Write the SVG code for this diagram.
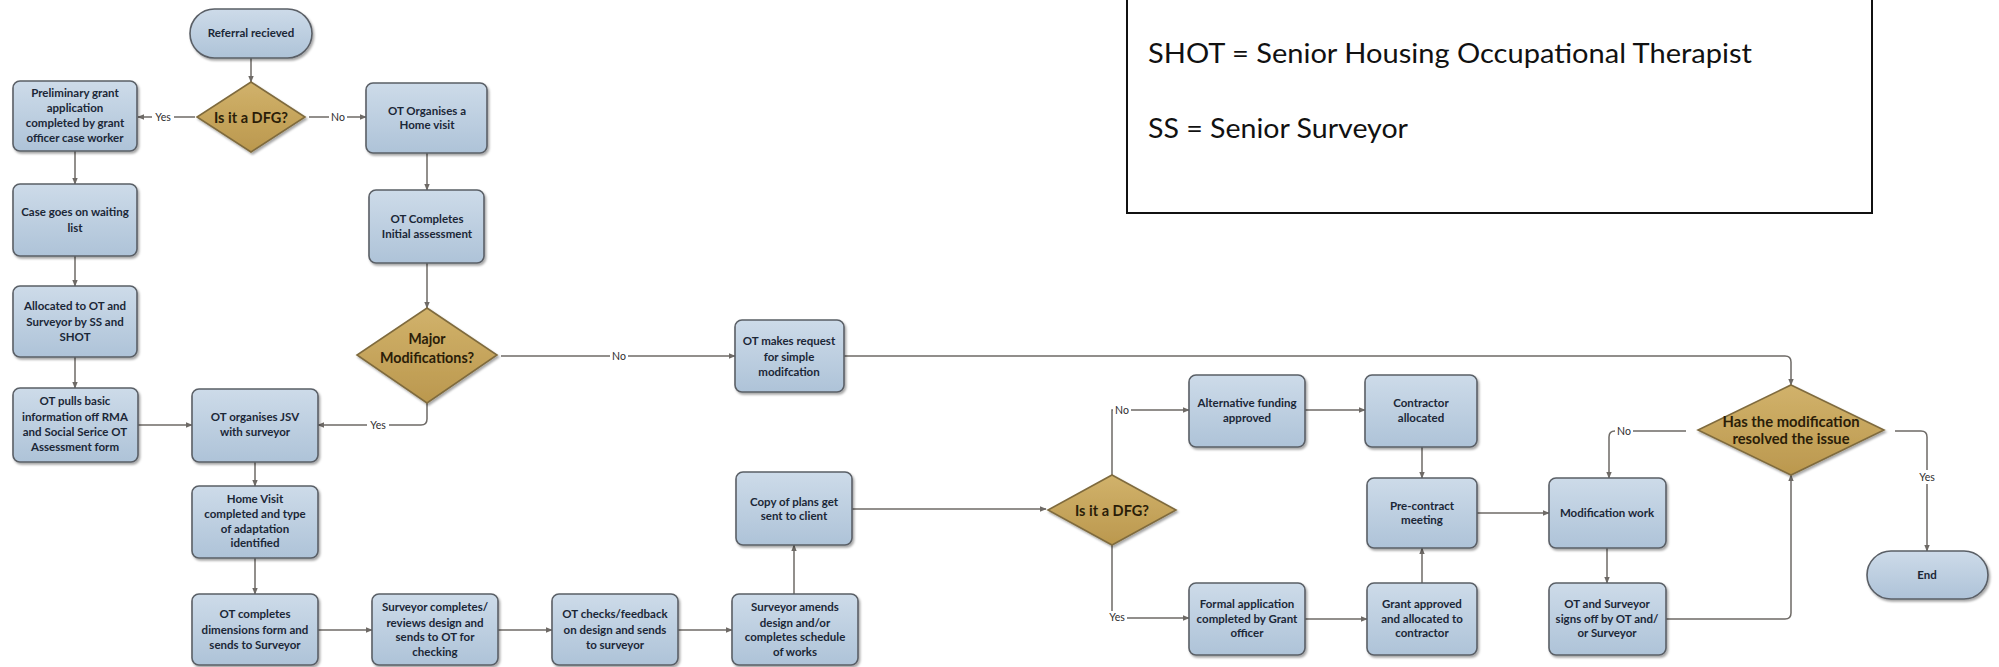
<svg xmlns="http://www.w3.org/2000/svg" width="1999" height="667" viewBox="0 0 1999 667">
  <defs>
    <linearGradient id="boxFill" x1="0" y1="0" x2="0" y2="1">
      <stop offset="0" stop-color="#cddbe9"/>
      <stop offset="1" stop-color="#aec3d8"/>
    </linearGradient>
    <linearGradient id="decFill" x1="0" y1="0" x2="0" y2="1">
      <stop offset="0" stop-color="#d1b26b"/>
      <stop offset="1" stop-color="#bb984e"/>
    </linearGradient>
    <filter id="shadow" x="-10%" y="-10%" width="125%" height="130%">
      <feDropShadow dx="1.5" dy="2" stdDeviation="1.2" flood-color="#000" flood-opacity="0.35"/>
    </filter>
    <marker id="arrow" viewBox="0 0 10 10" refX="9" refY="5" markerWidth="7" markerHeight="7" orient="auto" markerUnits="userSpaceOnUse">
      <path d="M0,1 L10,5 L0,9 Z" fill="#6e6a66"/>
    </marker>
  </defs>
  <style>
    .box { fill: url(#boxFill); stroke: #5a5f66; stroke-width: 1.6; filter: url(#shadow); }
    .dec { fill: url(#decFill); stroke: #7f6b3e; stroke-width: 1.6; filter: url(#shadow); }
    .lbl { font-family: Lato, "Liberation Sans", sans-serif; font-weight: bold; font-size: 11.5px; fill: #1b2737; text-anchor: middle; }
    .dlbl { font-family: Lato, "Liberation Sans", sans-serif; font-weight: bold; font-size: 16px; fill: #2b1d08; text-anchor: middle; }
    .edge { fill: none; stroke: #6e6a66; stroke-width: 1.5; marker-end: url(#arrow); }
    .elbl { font-family: Lato, "Liberation Sans", sans-serif; font-size: 10.5px; fill: #2e2e2e; text-anchor: middle; }
    .lbg { fill: #ffffff; }
    .legend { font-family: Lato, "Open Sans", sans-serif; font-size: 27px; fill: #111111; }
  </style>

  <!-- legend -->
  <g id="legend">
    <rect x="1127" y="-2" width="745" height="215" fill="#ffffff" stroke="#111111" stroke-width="2"/>
    <text class="legend" x="1148" y="63" textLength="604" lengthAdjust="spacingAndGlyphs">SHOT = Senior Housing Occupational Therapist</text>
    <text class="legend" x="1148" y="138" textLength="260" lengthAdjust="spacingAndGlyphs">SS = Senior Surveyor</text>
  </g>

  <!-- connectors -->
  <g id="connectors">
    <path class="edge" d="M251,58 V82"/>
    <path class="edge" d="M195,117 H138"/>
    <path class="edge" d="M309,117 H366"/>
    <path class="edge" d="M75,151 V184"/>
    <path class="edge" d="M75,256 V286"/>
    <path class="edge" d="M75,357 V388"/>
    <path class="edge" d="M427,153 V190"/>
    <path class="edge" d="M427,263 V308"/>
    <path class="edge" d="M501,356 H735"/>
    <path class="edge" d="M427,403 V419 Q427,425 421,425 H318"/>
    <path class="edge" d="M138,425 H192"/>
    <path class="edge" d="M255,462 V486"/>
    <path class="edge" d="M255,558 V594"/>
    <path class="edge" d="M318,630 H372"/>
    <path class="edge" d="M498,630 H552"/>
    <path class="edge" d="M678,630 H732"/>
    <path class="edge" d="M794,594 V545"/>
    <path class="edge" d="M852,509 H1046"/>
    <path class="edge" d="M1112,475 V410 H1189"/>
    <path class="edge" d="M1112,545 V618 H1189"/>
    <path class="edge" d="M1305,410 H1365"/>
    <path class="edge" d="M1305,619 H1367"/>
    <path class="edge" d="M1422,447 V478"/>
    <path class="edge" d="M1422,583 V548"/>
    <path class="edge" d="M1477,513 H1549"/>
    <path class="edge" d="M1607,548 V583"/>
    <path class="edge" d="M1666,619 H1785 Q1791,619 1791,613 V475"/>
    <path class="edge" d="M844,356 H1785 Q1791,356 1791,362 V385"/>
    <path class="edge" d="M1686,431 H1615 Q1609,431 1609,437 V478"/>
    <path class="edge" d="M1895,431 H1921 Q1927,431 1927,437 V551"/>

    <rect class="lbg" x="152" y="111" width="22" height="12"/>
    <text class="elbl" x="163" y="121">Yes</text>
    <rect class="lbg" x="329" y="111" width="18" height="12"/>
    <text class="elbl" x="338" y="121">No</text>
    <rect class="lbg" x="610" y="350" width="18" height="12"/>
    <text class="elbl" x="619" y="360">No</text>
    <rect class="lbg" x="367" y="419" width="22" height="12"/>
    <text class="elbl" x="378" y="429">Yes</text>
    <rect class="lbg" x="1113" y="403" width="18" height="13"/>
    <text class="elbl" x="1122" y="414">No</text>
    <rect class="lbg" x="1105" y="611" width="22" height="12"/>
    <text class="elbl" x="1117" y="621">Yes</text>
    <rect class="lbg" x="1615" y="425" width="18" height="12"/>
    <text class="elbl" x="1624" y="435">No</text>
    <rect class="lbg" x="1916" y="470" width="22" height="14"/>
    <text class="elbl" x="1927" y="481">Yes</text>
  </g>

  <!-- nodes -->
  <g id="n-referral">
    <rect class="box" x="190" y="9" width="122" height="49" rx="24.5"/>
    <text class="lbl" x="251" y="37">Referral recieved</text>
  </g>
  <g id="n-dfg1">
    <polygon class="dec" points="251,82 305,117 251,152 197,117"/>
    <text class="dlbl" x="251" y="123" textLength="74" lengthAdjust="spacingAndGlyphs">Is it a DFG?</text>
  </g>
  <g id="n-prelim">
    <rect class="box" x="13" y="81" width="124" height="70" rx="7"/>
    <text class="lbl" x="75" y="97"><tspan x="75">Preliminary grant</tspan><tspan x="75" dy="15">application</tspan><tspan x="75" dy="15">completed by grant</tspan><tspan x="75" dy="15">officer case worker</tspan></text>
  </g>
  <g id="n-otorganises">
    <rect class="box" x="366" y="83" width="121" height="70" rx="7"/>
    <text class="lbl" x="427" y="115"><tspan x="427">OT Organises a</tspan><tspan x="427" dy="14">Home visit</tspan></text>
  </g>
  <g id="n-casewaiting">
    <rect class="box" x="13" y="184" width="124" height="72" rx="7"/>
    <text class="lbl" x="75" y="216"><tspan x="75">Case goes on waiting</tspan><tspan x="75" dy="16">list</tspan></text>
  </g>
  <g id="n-otcompletes">
    <rect class="box" x="369" y="190" width="115" height="73" rx="7"/>
    <text class="lbl" x="427" y="223"><tspan x="427">OT Completes</tspan><tspan x="427" dy="15">Initial assessment</tspan></text>
  </g>
  <g id="n-major">
    <polygon class="dec" points="427,308 497,355 427,403 357,355"/>
    <text class="dlbl" x="427" y="344" textLength="37" lengthAdjust="spacingAndGlyphs">Major</text>
    <text class="dlbl" x="427" y="363" textLength="94" lengthAdjust="spacingAndGlyphs">Modifications?</text>
  </g>
  <g id="n-allocated">
    <rect class="box" x="13" y="286" width="124" height="71" rx="7"/>
    <text class="lbl" x="75" y="310"><tspan x="75">Allocated to OT and</tspan><tspan x="75" dy="16">Surveyor by SS and</tspan><tspan x="75" dy="15">SHOT</tspan></text>
  </g>
  <g id="n-otpulls">
    <rect class="box" x="13" y="388" width="125" height="74" rx="7"/>
    <text class="lbl" x="75" y="405"><tspan x="75">OT pulls basic</tspan><tspan x="75" dy="16">information off RMA</tspan><tspan x="75" dy="15">and Social Serice OT</tspan><tspan x="75" dy="15">Assessment form</tspan></text>
  </g>
  <g id="n-jsv">
    <rect class="box" x="192" y="389" width="126" height="73" rx="7"/>
    <text class="lbl" x="255" y="421"><tspan x="255">OT organises JSV</tspan><tspan x="255" dy="15">with surveyor</tspan></text>
  </g>
  <g id="n-homevisit">
    <rect class="box" x="192" y="486" width="126" height="72" rx="7"/>
    <text class="lbl" x="255" y="503"><tspan x="255">Home Visit</tspan><tspan x="255" dy="15">completed and type</tspan><tspan x="255" dy="15">of adaptation</tspan><tspan x="255" dy="14">identified</tspan></text>
  </g>
  <g id="n-dimensions">
    <rect class="box" x="192" y="594" width="126" height="71" rx="7"/>
    <text class="lbl" x="255" y="618"><tspan x="255">OT completes</tspan><tspan x="255" dy="16">dimensions form and</tspan><tspan x="255" dy="15">sends to Surveyor</tspan></text>
  </g>
  <g id="n-surveyorcompletes">
    <rect class="box" x="372" y="594" width="126" height="71" rx="7"/>
    <text class="lbl" x="435" y="611"><tspan x="435">Surveyor completes/</tspan><tspan x="435" dy="16">reviews design and</tspan><tspan x="435" dy="14">sends to OT for</tspan><tspan x="435" dy="15">checking</tspan></text>
  </g>
  <g id="n-otchecks">
    <rect class="box" x="552" y="594" width="126" height="71" rx="7"/>
    <text class="lbl" x="615" y="618"><tspan x="615">OT checks/feedback</tspan><tspan x="615" dy="16">on design and sends</tspan><tspan x="615" dy="15">to surveyor</tspan></text>
  </g>
  <g id="n-amends">
    <rect class="box" x="732" y="594" width="126" height="71" rx="7"/>
    <text class="lbl" x="795" y="611"><tspan x="795">Surveyor amends</tspan><tspan x="795" dy="16">design and/or</tspan><tspan x="795" dy="14">completes schedule</tspan><tspan x="795" dy="15">of works</tspan></text>
  </g>
  <g id="n-copyplans">
    <rect class="box" x="736" y="472" width="116" height="73" rx="7"/>
    <text class="lbl" x="794" y="506"><tspan x="794">Copy of plans get</tspan><tspan x="794" dy="14">sent to client</tspan></text>
  </g>
  <g id="n-request">
    <rect class="box" x="735" y="320" width="109" height="72" rx="7"/>
    <text class="lbl" x="789" y="345"><tspan x="789">OT makes request</tspan><tspan x="789" dy="16">for simple</tspan><tspan x="789" dy="15">modifcation</tspan></text>
  </g>
  <g id="n-dfg2">
    <polygon class="dec" points="1112,475 1176,510 1112,545 1048,510"/>
    <text class="dlbl" x="1112" y="516" textLength="74" lengthAdjust="spacingAndGlyphs">Is it a DFG?</text>
  </g>
  <g id="n-altfunding">
    <rect class="box" x="1189" y="375" width="116" height="72" rx="7"/>
    <text class="lbl" x="1247" y="407"><tspan x="1247">Alternative funding</tspan><tspan x="1247" dy="15">approved</tspan></text>
  </g>
  <g id="n-formal">
    <rect class="box" x="1189" y="583" width="116" height="72" rx="7"/>
    <text class="lbl" x="1247" y="608"><tspan x="1247">Formal application</tspan><tspan x="1247" dy="15">completed by Grant</tspan><tspan x="1247" dy="14">officer</tspan></text>
  </g>
  <g id="n-contractor">
    <rect class="box" x="1365" y="375" width="112" height="72" rx="7"/>
    <text class="lbl" x="1421" y="407"><tspan x="1421">Contractor</tspan><tspan x="1421" dy="15">allocated</tspan></text>
  </g>
  <g id="n-precontract">
    <rect class="box" x="1367" y="478" width="110" height="70" rx="7"/>
    <text class="lbl" x="1422" y="510"><tspan x="1422">Pre-contract</tspan><tspan x="1422" dy="14">meeting</tspan></text>
  </g>
  <g id="n-grant">
    <rect class="box" x="1367" y="583" width="110" height="72" rx="7"/>
    <text class="lbl" x="1422" y="608"><tspan x="1422">Grant approved</tspan><tspan x="1422" dy="15">and allocated to</tspan><tspan x="1422" dy="14">contractor</tspan></text>
  </g>
  <g id="n-modwork">
    <rect class="box" x="1549" y="478" width="117" height="70" rx="7"/>
    <text class="lbl" x="1607" y="517">Modification work</text>
  </g>
  <g id="n-signoff">
    <rect class="box" x="1549" y="583" width="117" height="72" rx="7"/>
    <text class="lbl" x="1607" y="608"><tspan x="1607">OT and Surveyor</tspan><tspan x="1607" dy="15">signs off by OT and/</tspan><tspan x="1607" dy="14">or Surveyor</tspan></text>
  </g>
  <g id="n-resolved">
    <polygon class="dec" points="1791,385 1884,430 1791,475 1698,430"/>
    <text class="dlbl" x="1791" y="427" font-size="15.5" textLength="137" lengthAdjust="spacingAndGlyphs">Has the modification</text>
    <text class="dlbl" x="1791" y="444" font-size="15.5" textLength="117" lengthAdjust="spacingAndGlyphs">resolved the issue</text>
  </g>
  <g id="n-end">
    <rect class="box" x="1867" y="551" width="121" height="48" rx="24"/>
    <text class="lbl" x="1927" y="579">End</text>
  </g>
</svg>
